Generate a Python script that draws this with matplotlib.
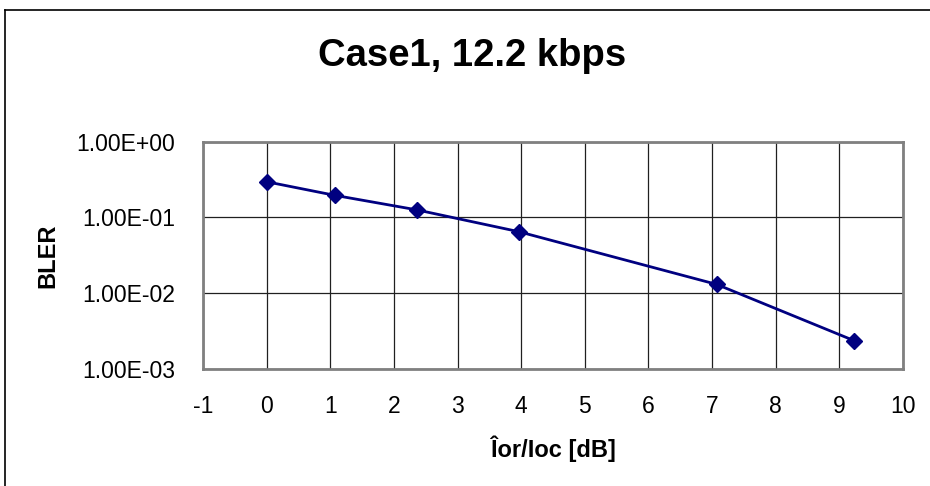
import matplotlib
matplotlib.use('Agg')
import matplotlib.pyplot as plt
from matplotlib.lines import Line2D
from matplotlib.ticker import FixedLocator, FuncFormatter

plt.rcParams['font.family'] = ['Liberation Sans', 'DejaVu Sans']
plt.rcParams['axes.unicode_minus'] = False

# data
ior_ioc = [0.0, 1.07, 2.36, 3.96, 7.07, 9.23]
bler = [0.296, 0.196, 0.126, 0.065, 0.0131, 0.00237]

x_ticks = list(range(-1, 11))
y_ticks = [1e-3, 1e-2, 1e-1, 1e0]
y_labels = ['1.00E-03', '1.00E-02', '1.00E-01', '1.00E+00']

fig = plt.figure(figsize=(9.3, 4.86), dpi=100)
ax = fig.add_axes([203 / 930, 1 - 369 / 486, 700 / 930, 227.3 / 486])

ax.plot(ior_ioc, bler, color='#000080', linewidth=2, marker='D',
        markersize=8.5, zorder=3, clip_on=False)

ax.set_yscale('log')
ax.set_xlim(-1, 10)
ax.set_ylim(1e-3, 1e0)
ax.xaxis.set_major_locator(FixedLocator(x_ticks))
ax.yaxis.set_major_locator(FixedLocator(y_ticks))
ax.yaxis.set_minor_locator(FixedLocator([]))
ax.yaxis.set_major_formatter(FuncFormatter(lambda v, p: y_labels[y_ticks.index(v)] if v in y_ticks else ''))

ax.grid(True, which='major', color='#202020', linewidth=0.9)
ax.tick_params(axis='both', length=0, labelsize=16.5)
ax.tick_params(axis='y', pad=20)
ax.tick_params(axis='x', pad=19)
for s in ax.spines.values():
    s.set_color('#808080')
    s.set_linewidth(2)

ax.set_xlabel('Îor/Ioc [dB]', fontsize=17, fontweight='bold', labelpad=12)
ax.set_ylabel('BLER', fontsize=17, fontweight='bold', labelpad=12)

fig.text(472 / 930, 1 - 56 / 486, 'Case1, 12.2 kbps', fontsize=27.5,
         fontweight='bold', ha='center', va='center')

# outer chart border (only left and top visible)
fig.add_artist(Line2D([4.5 / 930, 4.5 / 930], [0, 1 - 10.5 / 486], color='black', linewidth=1.2))
fig.add_artist(Line2D([4.5 / 930, 1], [1 - 10.5 / 486, 1 - 10.5 / 486], color='black', linewidth=1.2))

fig.savefig('out.png', dpi=100)
